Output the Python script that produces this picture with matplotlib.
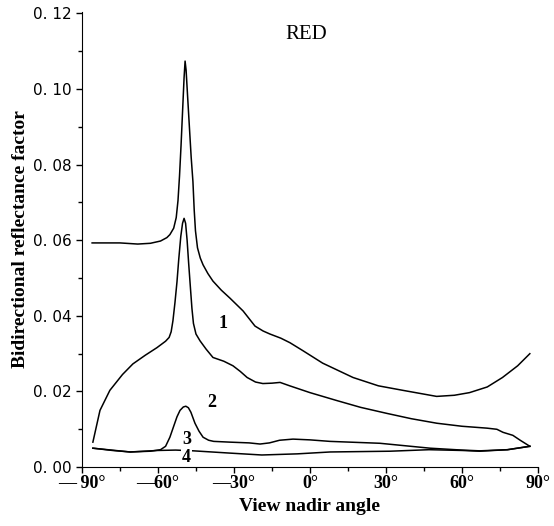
import numpy as np
import matplotlib.pyplot as plt
from matplotlib.ticker import MultipleLocator

plt.rcParams['font.family'] = ['Liberation Serif', 'DejaVu Serif']

# 曲线1
x1 = [-86, -75, -68, -63, -59, -56.5, -55.3, -53.8, -52.8, -52.1, -51.5, -50.9, -50.3,
      -49.7, -49.3, -48.9, -48.3, -47.6, -46.9, -46.2, -45.7, -45.2, -44.4, -43.3,
      -42.2, -40.3, -38.3, -35, -31.6, -26.4, -21.7, -18.5, -15.8, -11.5, -7.9,
      -2.8, 5, 17, 27, 36.7, 50, 57, 63, 70, 76, 82, 86.8]
y1 = [0.0593, 0.0593, 0.0590, 0.0592, 0.0598, 0.0607, 0.0615, 0.0632, 0.0660, 0.0705,
      0.077, 0.085, 0.094, 0.103, 0.1074, 0.105, 0.098, 0.090, 0.082, 0.0755, 0.068,
      0.0625, 0.0580, 0.0553, 0.0535, 0.0512, 0.0492, 0.0468, 0.0447, 0.0413,
      0.0373, 0.0360, 0.0352, 0.0341, 0.0329, 0.0308, 0.0275, 0.0237, 0.0215,
      0.0203, 0.0187, 0.0190, 0.0197, 0.0212, 0.0237, 0.0268, 0.030]

# 曲线2
x2 = [-85.7, -82.9, -79, -74, -69.9, -65, -60.4, -57, -55.6, -54.8, -54.1, -53.3,
      -52.5, -51.8, -51.0, -50.3, -49.7, -49.1, -48.5, -47.9, -47.2, -46.6, -46.0,
      -45.0, -43.4, -41, -38.3, -34, -30.4, -27.5, -24.8, -21.5, -18.6, -15, -11.8,
      -8, 0, 10.6, 20, 30.4, 40, 50.1, 60, 69.9, 73.8, 76.2, 80.1, 83, 86.8]
y2 = [0.0066, 0.0150, 0.0203, 0.0245, 0.0273, 0.0296, 0.0316, 0.0333, 0.0343, 0.0358,
      0.0387, 0.0435, 0.049, 0.0550, 0.0610, 0.0645, 0.0658, 0.0645, 0.0600, 0.0540,
      0.0475, 0.0420, 0.0380, 0.0352, 0.0334, 0.0312, 0.029, 0.0280, 0.0268, 0.0253,
      0.0237, 0.0225, 0.0221, 0.0222, 0.0224, 0.0215, 0.0197, 0.0176, 0.0158,
      0.0142, 0.0128, 0.0116, 0.0108, 0.0103, 0.0100, 0.0092, 0.0084, 0.0071, 0.0055]

# 曲线3
x3 = [-85.7, -78, -71, -63, -59, -57, -55.3, -53.8, -52.5, -51.3, -50, -49, -48,
      -47, -45.4, -43.8, -42.2, -40, -38, -31.6, -24, -19.7, -16, -12, -6.7, 0,
      7.9, 27.6, 47.4, 60, 67, 78, 86.8]
y3 = [0.0050, 0.0044, 0.0040, 0.0042, 0.0046, 0.0055, 0.0079, 0.0108, 0.0133, 0.0150,
      0.0159, 0.0161, 0.0157, 0.0145, 0.0116, 0.0095, 0.0079, 0.0071, 0.0068,
      0.0066, 0.0064, 0.0061, 0.0064, 0.0071, 0.0074, 0.0072, 0.0068, 0.0063,
      0.0050, 0.0045, 0.0043, 0.0046, 0.0055]

# 曲线4
x4 = [-85.7, -71, -60, -53, -46, -31.6, -19, -5, 8, 31.6, 47, 60, 67, 78, 86.8]
y4 = [0.0050, 0.0040, 0.0044, 0.0045, 0.0043, 0.0037, 0.0032, 0.0035, 0.0040,
      0.0042, 0.0046, 0.0044, 0.0042, 0.0046, 0.0055]

xticks = [-90, -60, -30, 0, 30, 60, 90]
xlabels = ['— 90°', '—60°', '—30°', '0°', '30°', '60°', '90°']
yticks = [0.00, 0.02, 0.04, 0.06, 0.08, 0.10, 0.12]
ylabels = ['0. 00', '0. 02', '0. 04', '0. 06', '0. 08', '0. 10', '0. 12']

fig = plt.figure(figsize=(5.54, 5.26), dpi=100)
ax = fig.add_axes([0.148, 0.112, 0.823, 0.866])

for x, y in [(x1, y1), (x2, y2), (x3, y3), (x4, y4)]:
    ax.plot(x, y, color='black', lw=1.1)

ax.set_xlim(-90, 90)
ax.set_ylim(0, 0.1205)
ax.spines['top'].set_visible(False)
ax.spines['right'].set_visible(False)

ax.set_xticks(xticks)
ax.set_xticklabels(xlabels, fontsize=13, fontweight='bold')
ax.set_yticks(yticks)
ax.set_yticklabels(ylabels, fontsize=11, family='DejaVu Sans')
ax.xaxis.set_minor_locator(MultipleLocator(15))
ax.yaxis.set_minor_locator(MultipleLocator(0.01))
ax.tick_params(which='major', length=4, width=1, direction='out')
ax.tick_params(axis='x', which='major', pad=2)
ax.tick_params(which='minor', length=3, width=1, direction='out')

ax.set_xlabel('View nadir angle', fontsize=14, fontweight='bold', labelpad=4)
ax.set_ylabel('Bidirectional reflectance factor', fontsize=14, fontweight='bold', labelpad=3)

# 标注
ax.text(-1.6, 0.1145, 'RED', fontsize=15, ha='center', va='center')
ax.text(-34.3, 0.0381, '1', fontsize=13, fontweight='bold', ha='center', va='center')
ax.text(-38.7, 0.0171, '2', fontsize=13, fontweight='bold', ha='center', va='center')
ax.text(-48.8, 0.0074, '3', fontsize=13, fontweight='bold', ha='center', va='center')
ax.text(-48.8, 0.0026, '4', fontsize=13, fontweight='bold', ha='center', va='center',
        bbox=dict(facecolor='white', edgecolor='none', pad=0.5))

plt.savefig('out.png', dpi=100)
